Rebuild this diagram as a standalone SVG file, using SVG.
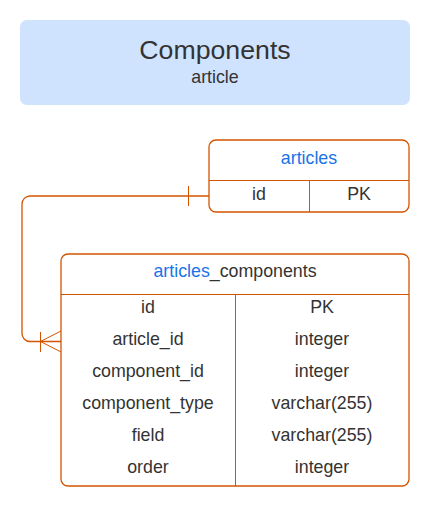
<svg xmlns="http://www.w3.org/2000/svg" width="430" height="506" viewBox="0 0 430 506">
<style>
text{font-family:"Liberation Sans",Arial,sans-serif;fill:#333333;text-anchor:middle}
.t{font-size:17.8px}
.blue{fill:#1a73e8}
.box{fill:#ffffff;stroke:#d35400;stroke-width:1.3}
.ln{stroke:#d35400;stroke-width:1;fill:none}
.conn{stroke:#d35400;stroke-width:1.3;fill:none}
</style>
<rect width="430" height="506" fill="#ffffff"/>
<g id="title">
<rect x="20" y="20" width="390" height="85" rx="7" fill="#cfe2fe"/>
<text x="215" y="59" style="font-size:26.7px">Components</text>
<text class="t" x="215" y="83">article</text>
</g>
<g id="connectors">
<path class="conn" d="M209,196 H30 A8,8 0 0 0 22,204 V333 A8,8 0 0 0 30,341.5 H61"/>
<line class="ln" x1="188.5" y1="186" x2="188.5" y2="206"/>
<line class="ln" x1="40.5" y1="332" x2="40.5" y2="352"/>
<path class="ln" d="M61,331 L40.5,341.5 L61,352"/>
</g>
<g id="articles">
<rect class="box" x="209" y="140" width="200" height="72" rx="7"/>
<line class="ln" x1="209" y1="180.5" x2="409" y2="180.5"/>
<line class="ln" x1="309.5" y1="180.5" x2="309.5" y2="212"/>
<text class="t blue" x="309" y="164">articles</text>
<text class="t" x="259" y="199.5">id</text>
<text class="t" x="359" y="199.5">PK</text>
</g>
<g id="articles_components">
<rect class="box" x="61" y="254" width="348" height="232" rx="7"/>
<line class="ln" x1="61" y1="294.5" x2="409" y2="294.5"/>
<line class="ln" x1="235.5" y1="294.5" x2="235.5" y2="486"/>
<text class="t" x="235" y="277"><tspan class="blue">articles</tspan>_components</text>
<text class="t" x="148" y="313">id</text>
<text class="t" x="322" y="313">PK</text>
<text class="t" x="148" y="345">article_id</text>
<text class="t" x="322" y="345">integer</text>
<text class="t" x="148" y="377">component_id</text>
<text class="t" x="322" y="377">integer</text>
<text class="t" x="148" y="409">component_type</text>
<text class="t" x="322" y="409">varchar(255)</text>
<text class="t" x="148" y="441">field</text>
<text class="t" x="322" y="441">varchar(255)</text>
<text class="t" x="148" y="473">order</text>
<text class="t" x="322" y="473">integer</text>
</g>
</svg>
